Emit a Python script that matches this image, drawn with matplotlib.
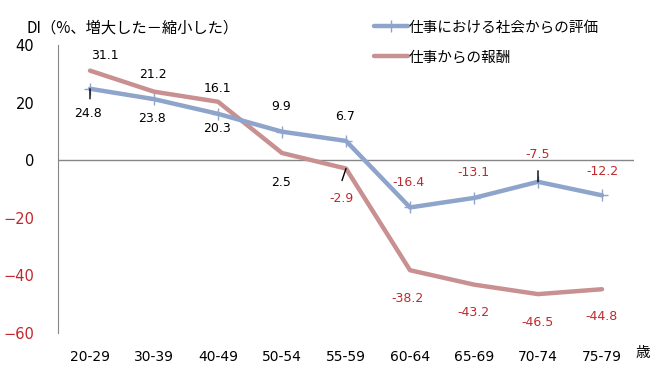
import matplotlib
matplotlib.use('Agg')
import matplotlib.pyplot as plt

plt.rcParams['font.family'] = ['DejaVu Sans', 'Noto Sans CJK JP']

# data
ages = ['20-29', '30-39', '40-49', '50-54', '55-59', '60-64', '65-69', '70-74', '75-79']
hyoka = [24.8, 21.2, 16.1, 9.9, 6.7, -16.4, -13.1, -7.5, -12.2]
hoshu = [31.1, 23.8, 20.3, 2.5, -2.9, -38.2, -43.2, -46.5, -44.8]
name_hyoka = '仕事における社会からの評価'
name_hoshu = '仕事からの報酬'

blue = '#8EA4CA'
pink = '#C89091'
neg_red = '#C0282D'
jp = ['Noto Sans CJK JP', 'DejaVu Sans']

fig = plt.figure(figsize=(6.7, 3.74), dpi=100)
ax = fig.add_axes([58/670, 1 - 333/374, 576/670, 288/374])

x = range(len(ages))
ax.axhline(0, color='#868686', lw=1, zorder=1)
ax.plot(x, hyoka, color=blue, lw=3.2, marker='+', ms=9, mew=1, zorder=3,
        label=name_hyoka, solid_capstyle='round')
ax.plot(x, hoshu, color=pink, lw=3.2, zorder=2, label=name_hoshu,
        solid_capstyle='round')

ax.set_xlim(-0.5, len(ages) - 0.5)
ax.set_ylim(-60, 40)
ax.set_yticks([-60, -40, -20, 0, 20, 40])
ax.set_xticks(list(x))
ax.set_xticklabels(ages, fontsize=10)
ax.tick_params(axis='y', length=0, pad=17, labelsize=10.5)
ax.tick_params(axis='x', length=0, pad=12)
for t in ax.get_yticklabels():
    if t.get_text().startswith('-') or t.get_text().startswith('\u2212'):
        t.set_color(neg_red)
for s in ['top', 'right', 'bottom']:
    ax.spines[s].set_visible(False)
ax.spines['left'].set_color('#868686')

# label offsets in pixels (dx, dy)
off_hyoka = [(-2, -25), (-1, 25), (-1, 25), (-1, 25), (-1, 24), (-2, 25), (-1, 25), (0, 27), (0, 24)]
off_hoshu = [(15, 15), (-2, -27), (-1, -27), (-1, -29), (-4, -30), (-2, -28), (-1, -28), (0, -28), (0, -27)]

def lab(v, xy, off):
    c = neg_red if v < 0 else 'black'
    ax.annotate(f'{v:.1f}', xy=xy, xytext=off, textcoords='offset pixels',
                ha='center', va='center', fontsize=9, color=c)

for i in x:
    lab(hyoka[i], (i, hyoka[i]), off_hyoka[i])
    lab(hoshu[i], (i, hoshu[i]), off_hoshu[i])

# leader lines
ax.annotate('', xy=(0, hyoka[0]), xytext=(0, -10), textcoords='offset pixels',
            arrowprops=dict(arrowstyle='-', color='black', lw=1, shrinkA=0, shrinkB=0))
ax.annotate('', xy=(7, hyoka[7]), xytext=(0, 11), textcoords='offset pixels',
            arrowprops=dict(arrowstyle='-', color='black', lw=1, shrinkA=0, shrinkB=0))
ax.annotate('', xy=(4, hoshu[4]), xytext=(-4, -12), textcoords='offset pixels',
            arrowprops=dict(arrowstyle='-', color='black', lw=1, shrinkA=0, shrinkB=0))

fig.text(27/670, 1 - 28/374, 'DI（%、増大した－縮小した）', family=jp, fontsize=11,
         ha='left', va='center')
fig.text(636/670, 1 - 353/374, '歳', family=jp, fontsize=10.5, ha='left', va='center')

leg = ax.legend(loc='upper left', bbox_to_anchor=(361/670, 1 - 7/374),
                bbox_transform=fig.transFigure, frameon=False, handlelength=2.3,
                handletextpad=0.1, labelspacing=1.1, prop={'family': jp, 'size': 10.5})
for h in leg.legend_handles:
    h.set_solid_capstyle('round')

fig.savefig('out.png', dpi=100)
